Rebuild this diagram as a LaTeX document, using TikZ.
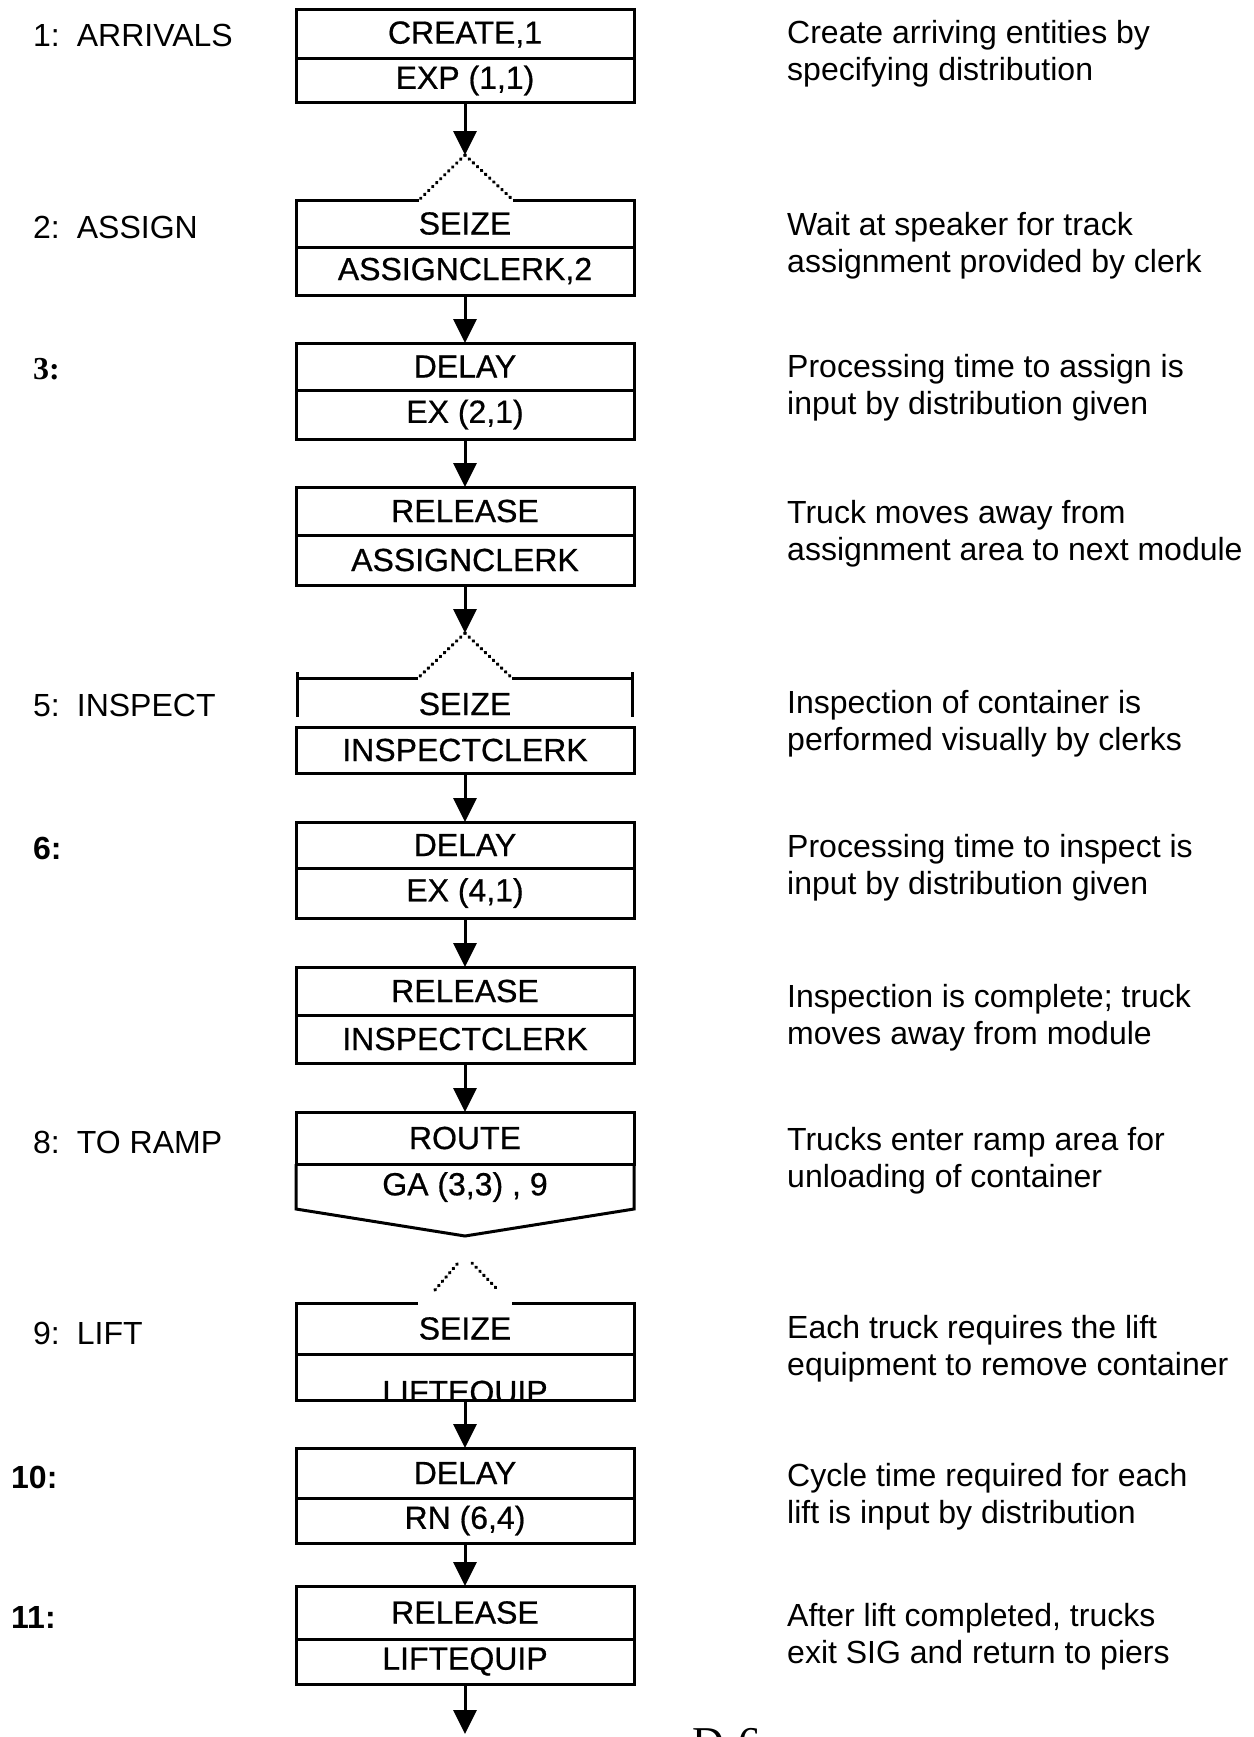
\documentclass[tikz,border=0pt]{standalone}
\usepackage{fontspec}
\setmainfont{Liberation Sans}
\newfontfamily\serifb{Liberation Serif}
\newfontfamily\boxfont{Liberation Sans}[FakeBold=0.6]
\usetikzlibrary{arrows.meta}
\begin{document}
\begin{tikzpicture}[x=1pt,y=-1pt,
  cell/.style={draw, line width=3pt, minimum width=338pt, inner sep=0pt, outer sep=0pt, font=\boxfont\fontsize{32}{32}\selectfont},
  blank/.style={cell, draw=none},
  flow/.style={line width=3pt, -{Triangle[width=23pt,length=24pt]}},
  dots/.style={line width=3.5pt, line cap=round, dash pattern=on 0.6pt off 5pt},
  edge/.style={line width=3pt},
  lab/.style={anchor=west, inner sep=0pt, font=\fontsize{32}{32}\selectfont},
  desc/.style={anchor=base west, inner sep=0pt, align=left, font=\fontsize{32}{37}\selectfont},
]
\useasboundingbox (0,0) rectangle (1253,1737);
\fill[white] (0,0) rectangle (1253,1737);

% ---- box 1
\node[cell, minimum height=49pt] (b1u) at (465,34.5) {CREATE,1};
\node[cell, minimum height=43pt] (b1l) at (465,80.5) {EXP (1,1)};
\coordinate (a2) at (465,155);
\coordinate (g2l) at (419,200);
\coordinate (g2r) at (513,200);
\draw[flow] (b1l.south) -- (a2);
\draw[dots] (a2) -- (g2l);
\draw[dots] (a2) -- (g2r);

% ---- box 2
\node[blank, minimum height=47pt] (b2u) at (465,223.5) {SEIZE};
\draw[edge] (g2l) -- (b2u.north west) -- (b2u.south west);
\draw[edge] (g2r) -- (b2u.north east) -- (b2u.south east);
\node[cell, minimum height=48pt] (b2l) at (465,271) {ASSIGNCLERK,2};

% ---- box 3
\node[cell, minimum height=47pt] (b3u) at (465,366.5) {DELAY};
\node[cell, minimum height=49pt] (b3l) at (465,414.5) {EX (2,1)};
\draw[flow] (b2l.south) -- (b3u.north);

% ---- box 4
\node[cell, minimum height=48pt] (b4u) at (465,511) {RELEASE};
\node[cell, minimum height=50pt] (b4l) at (465,560) {ASSIGNCLERK};
\draw[flow] (b3l.south) -- (b4u.north);
\coordinate (a5) at (465,633);
\coordinate (g5l) at (418,678);
\coordinate (g5r) at (512,678);
\draw[flow] (b4l.south) -- (a5);
\draw[dots] (a5) -- (g5l);
\draw[dots] (a5) -- (g5r);

% ---- box 5
\node[blank, minimum height=30pt] (b5u) at (465,704) {SEIZE};
\draw[edge] (g5l) -- (297,678);
\draw[edge] (297,672) -- (297,717);
\draw[edge] (g5r) -- (632,678);
\draw[edge] (632,672) -- (632,717);
\node[cell, minimum height=46pt] (b5l) at (465,750) {INSPECTCLERK};

% ---- box 6
\node[cell, minimum height=46pt] (b6u) at (465,845) {DELAY};
\node[cell, minimum height=50pt] (b6l) at (465,893) {EX (4,1)};
\draw[flow] (b5l.south) -- (b6u.north);

% ---- box 7
\node[cell, minimum height=48pt] (b7u) at (465,991) {RELEASE};
\node[cell, minimum height=48pt] (b7l) at (465,1039) {INSPECTCLERK};
\draw[flow] (b6l.south) -- (b7u.north);

% ---- box 8 (route)
\node[cell, minimum height=52pt] (b8u) at (465,1138) {ROUTE};
\draw[flow] (b7l.south) -- (b8u.north);
\coordinate (v8) at (465,1236);
\draw[edge, line join=miter] (b8u.south west) -- ++(0,45) -- (v8) -- ++(169,-27) -- (b8u.south east);
\node[blank, minimum height=30pt] (b8l) at (465,1187) {GA (3,3) , 9};

% ---- box 9
\coordinate (d9a) at (435,1290);
\coordinate (d9b) at (458,1263);
\coordinate (d9c) at (472,1263);
\coordinate (d9d) at (498,1290);
\draw[dots] (d9a) -- (d9b);
\draw[dots] (d9c) -- (d9d);
\coordinate (g9l) at (418,1303);
\coordinate (g9r) at (512,1303);
\node[blank, minimum height=51pt] (b9u) at (465,1328.5) {SEIZE};
\draw[edge] (g9l) -- (b9u.north west) -- (b9u.south west);
\draw[edge] (g9r) -- (b9u.north east) -- (b9u.south east);
\node[cell, minimum height=46pt] (b9l) at (465,1377) {};
\begin{scope}
  \clip (b9l.north west) rectangle (b9l.south east);
  \node[anchor=base, inner sep=0pt, font=\boxfont\fontsize{32}{32}\selectfont] (t9) at (465,1403) {LIFTEQUIP};
\end{scope}

% ---- box 10
\node[cell, minimum height=50pt] (b10u) at (465,1473) {DELAY};
\node[cell, minimum height=45pt] (b10l) at (465,1520.5) {RN (6,4)};
\draw[flow] (b9l.south) -- (b10u.north);

% ---- box 11
\node[cell, minimum height=53pt] (b11u) at (465,1612.5) {RELEASE};
\node[cell, minimum height=45pt] (b11l) at (465,1661.5) {LIFTEQUIP};
\draw[flow] (b10l.south) -- (b11u.north);
\coordinate (endp) at (465,1734);
\draw[flow] (b11l.south) -- (endp);

% ---- left labels
\node[lab] (l1) at (33,35) {1:\hspace{17pt}ARRIVALS};
\node[lab] (l2) at (33,227) {2:\hspace{17pt}ASSIGN};
\node[lab, font=\serifb\bfseries\fontsize{32}{32}\selectfont] (l3) at (33,369) {3:};
\node[lab] (l5) at (33,705) {5:\hspace{17pt}INSPECT};
\node[lab] (l6) at (33,848) {\bfseries 6:};
\node[lab] (l8) at (33,1142) {8:\hspace{17pt}TO RAMP};
\node[lab] (l9) at (33,1333) {9:\hspace{17pt}LIFT};
\node[lab] (l10) at (11,1477) {\bfseries 10:};
\node[lab] (l11) at (11,1617) {\bfseries 11:};

% ---- descriptions (anchor = baseline of the last line)
\node[desc] (d1) at (787,81) {Create arriving entities by\\specifying distribution};
\node[desc] (d2) at (787,272) {Wait at speaker for track\\assignment provided by clerk};
\node[desc] (d3) at (787,414) {Processing time to assign is\\input by distribution given};
\node[desc] (d4) at (787,560) {Truck moves away from\\assignment area to next module};
\node[desc] (d5) at (787,750) {Inspection of container is\\performed visually by clerks};
\node[desc] (d6) at (787,894) {Processing time to inspect is\\input by distribution given};
\node[desc] (d7) at (787,1044) {Inspection is complete; truck\\moves away from module};
\node[desc] (d8) at (787,1187) {Trucks enter ramp area for\\unloading of container};
\node[desc] (d9) at (787,1375) {Each truck requires the lift\\equipment to remove container};
\node[desc] (d10) at (787,1523) {Cycle time required for each\\lift is input by distribution};
\node[desc] (d11) at (787,1663) {After lift completed, trucks\\exit SIG and return to piers};

% ---- page mark, cut by the lower edge
\node[anchor=base west, inner sep=0pt, font=\serifb\fontsize{44}{44}\selectfont] (pg) at (692,1757) {D-6};
\end{tikzpicture}
\end{document}
